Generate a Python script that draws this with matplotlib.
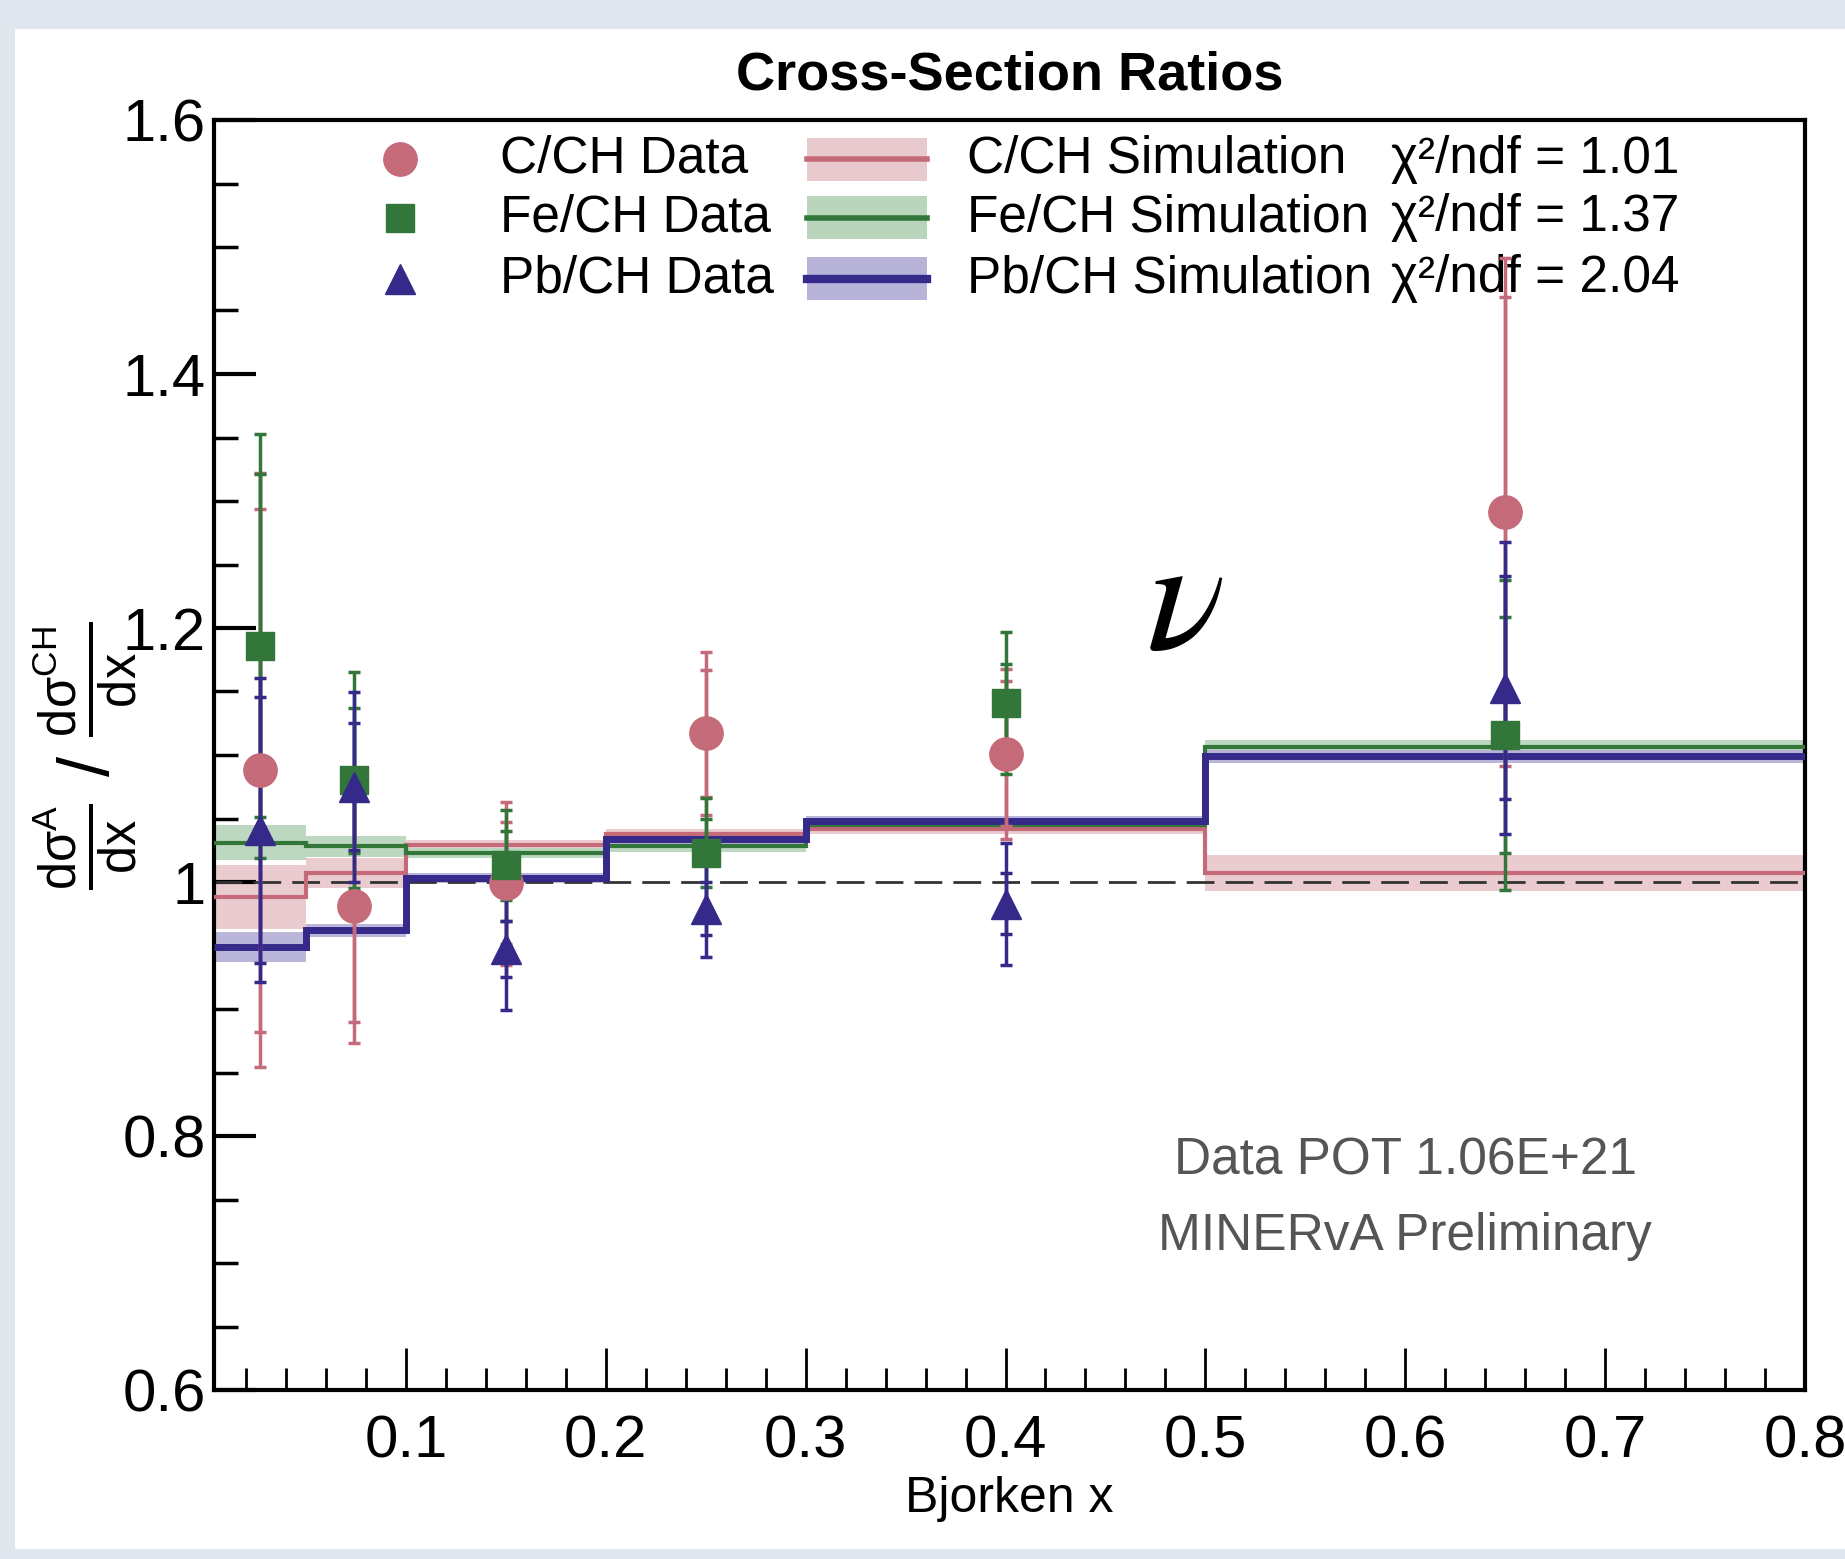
import matplotlib
matplotlib.use("Agg")
import matplotlib.pyplot as plt
from matplotlib.patches import Rectangle
from matplotlib.ticker import MultipleLocator, FixedLocator, FixedFormatter
import numpy as np

plt.rcParams['font.family'] = ['Liberation Sans', 'DejaVu Sans']
plt.rcParams['mathtext.fontset'] = 'custom'
plt.rcParams['mathtext.rm'] = 'Liberation Sans'
plt.rcParams['mathtext.it'] = 'Liberation Sans:italic'

# ---- binning (Bjorken x) ----
x_edges = [0.004, 0.05, 0.1, 0.2, 0.3, 0.5, 0.8]
x_centers = [0.027, 0.074, 0.15, 0.25, 0.40, 0.65]

# ---- data ratios: value, stat error, total error ----
c_data = [1.088, 0.981, 0.999, 1.117, 1.101, 1.291]
c_stat = [0.206, 0.091, 0.048, 0.050, 0.057, 0.170]
c_tot = [0.234, 0.108, 0.064, 0.064, 0.067, 0.200]

fe_data = [1.186, 1.080, 1.013, 1.023, 1.141, 1.116]
fe_stat = [0.135, 0.057, 0.027, 0.027, 0.031, 0.093]
fe_tot = [0.167, 0.085, 0.044, 0.043, 0.056, 0.122]

pb_data = [1.041, 1.075, 0.947, 0.979, 0.983, 1.153]
pb_stat = [0.105, 0.050, 0.022, 0.021, 0.024, 0.088]
pb_tot = [0.120, 0.075, 0.048, 0.038, 0.048, 0.115]

# ---- simulation ratios and band half-widths ----
c_sim = [0.988, 1.007, 1.029, 1.038, 1.042, 1.007]
c_sim_err = [0.025, 0.012, 0.004, 0.004, 0.004, 0.014]
fe_sim = [1.031, 1.028, 1.023, 1.028, 1.045, 1.106]
fe_sim_err = [0.014, 0.008, 0.004, 0.004, 0.004, 0.006]
pb_sim = [0.949, 0.962, 1.003, 1.034, 1.048, 1.099]
pb_sim_err = [0.012, 0.005, 0.004, 0.004, 0.004, 0.005]

chi2_ndf = ["1.01", "1.37", "2.04"]
data_labels = ["C/CH Data", "Fe/CH Data", "Pb/CH Data"]
sim_labels = ["C/CH Simulation", "Fe/CH Simulation", "Pb/CH Simulation"]

y_ticks = [0.6, 0.8, 1.0, 1.2, 1.4, 1.6]
y_ticklabels = ["0.6", "0.8", "1", "1.2", "1.4", "1.6"]
x_ticks = [0.1, 0.2, 0.3, 0.4, 0.5, 0.6, 0.7, 0.8]
x_ticklabels = ["0.1", "0.2", "0.3", "0.4", "0.5", "0.6", "0.7", "0.8"]

# colours
col_c, col_fe, col_pb = "#c46a79", "#33763a", "#35298a"
band_c, band_fe, band_pb = "#e8c9ce", "#b9d6bd", "#b6b2d8"

W, H = 1845, 1559
fig = plt.figure(figsize=(W / 100, H / 100), dpi=100)
fig.patch.set_facecolor("#e1e7ef")
# white panel behind the plot
fig.patches.append(Rectangle((15 / W, 10 / H), 1 - 15 / W, 1 - 39 / H,
                             transform=fig.transFigure, facecolor="white",
                             edgecolor="none", zorder=-10))

ax = fig.add_axes([214 / W, 1 - 1390 / H, (1805 - 214) / W, (1390 - 120) / H])
ax.set_facecolor("white")
ax.set_xlim(x_edges[0], x_edges[-1])
ax.set_ylim(0.6, 1.6)

edges = np.array(x_edges)


def step_vals(v):
    return np.append(np.array(v), v[-1])


# simulation bands
for sim, err, bc in [(c_sim, c_sim_err, band_c), (fe_sim, fe_sim_err, band_fe),
                     (pb_sim, pb_sim_err, band_pb)]:
    s = step_vals(sim)
    e = step_vals(err)
    ax.fill_between(edges, s - e, s + e, step="post", color=bc, lw=0, zorder=1,
                    alpha=0.95)

# reference line at unity
ax.axhline(1.0, color="#333333", lw=2, dashes=(10, 4), zorder=2)

# simulation lines
for sim, col, lw in [(c_sim, col_c, 3.0), (fe_sim, col_fe, 3.0), (pb_sim, col_pb, 5.0)]:
    ax.stairs(sim, edges, color=col, lw=lw, zorder=3, baseline=None)

# data points with stat and total error bars
for vals, st, tot, col, mk, ms in [
        (c_data, c_stat, c_tot, col_c, "o", 24),
        (fe_data, fe_stat, fe_tot, col_fe, "s", 20),
        (pb_data, pb_stat, pb_tot, col_pb, "^", 22)]:
    ax.errorbar(x_centers, vals, yerr=tot, fmt="none", ecolor=col, elinewidth=2.5,
                capsize=4, capthick=2.5, zorder=4)
    ax.errorbar(x_centers, vals, yerr=st, fmt="none", ecolor=col, elinewidth=2.5,
                capsize=4, capthick=2.5, zorder=4)
    ax.plot(x_centers, vals, ls="none", marker=mk, ms=ms, color=col, mec=col, zorder=5)

# axes styling
for sp in ax.spines.values():
    sp.set_linewidth(3)
    sp.set_color("black")
ax.xaxis.set_major_locator(FixedLocator(x_ticks))
ax.xaxis.set_major_formatter(FixedFormatter(x_ticklabels))
ax.xaxis.set_minor_locator(MultipleLocator(0.02))
ax.yaxis.set_major_locator(FixedLocator(y_ticks))
ax.yaxis.set_major_formatter(FixedFormatter(y_ticklabels))
ax.yaxis.set_minor_locator(MultipleLocator(0.05))
ax.tick_params(axis="both", which="both", direction="in", top=False, right=False,
               colors="black", labelsize=43)
ax.tick_params(axis="x", which="major", length=30, width=2, pad=18)
ax.tick_params(axis="x", which="minor", length=16, width=2)
ax.tick_params(axis="y", which="major", length=30, width=3, pad=6)
ax.tick_params(axis="y", which="minor", length=17, width=2.5)

ax.set_title("Cross-Section Ratios", fontsize=39, fontweight="bold", pad=22)
ax.set_xlabel("Bjorken x", fontsize=36, labelpad=4)
fig.text(85 / W, 1 - 756 / H,
         r"$\mathrm{\frac{d\sigma^{A}}{dx}}$ / $\mathrm{\frac{d\sigma^{CH}}{dx}}$",
         rotation=90, ha="center", va="center", fontsize=52)

# legend drawn inside the frame
rows = [0.969, 0.923, 0.875]
markers = [("o", col_c, 24), ("s", col_fe, 20), ("^", col_pb, 22)]
bands = [(band_c, col_c, 3.0), (band_fe, col_fe, 3.0), (band_pb, col_pb, 5.0)]
tr = ax.transAxes
for i, yr in enumerate(rows):
    mk, col, ms = markers[i]
    ax.plot([0.117], [yr], marker=mk, ms=ms, color=col, ls="none", transform=tr,
            clip_on=False, zorder=6)
    ax.text(0.180, yr, data_labels[i], transform=tr, fontsize=37, va="center", ha="left")
    bc, lc, lw = bands[i]
    ax.add_patch(Rectangle((0.373, yr - 0.017), 0.075, 0.034, transform=tr,
                           facecolor=bc, edgecolor="none", zorder=6))
    ax.plot([0.373, 0.448], [yr, yr], color=lc, lw=lw + 1, transform=tr, zorder=7)
    ax.text(0.473, yr, sim_labels[i], transform=tr, fontsize=37, va="center", ha="left")
    ax.text(0.740, yr, "\u03c7\u00b2/ndf = " + chi2_ndf[i], transform=tr, fontsize=37,
            va="center", ha="left")

# annotations
ax.text(0.6, 0.780, "Data POT 1.06E+21", fontsize=37, color="#555555",
        ha="center", va="center")
ax.text(0.6, 0.721, "MINERvA Preliminary", fontsize=37, color="#555555",
        ha="center", va="center")
ax.text(0.49, 1.215, "\u03bd", fontsize=118, family="STIXGeneral", style="italic",
        ha="center", va="center")

fig.savefig("out.png", dpi=100, facecolor=fig.get_facecolor())
